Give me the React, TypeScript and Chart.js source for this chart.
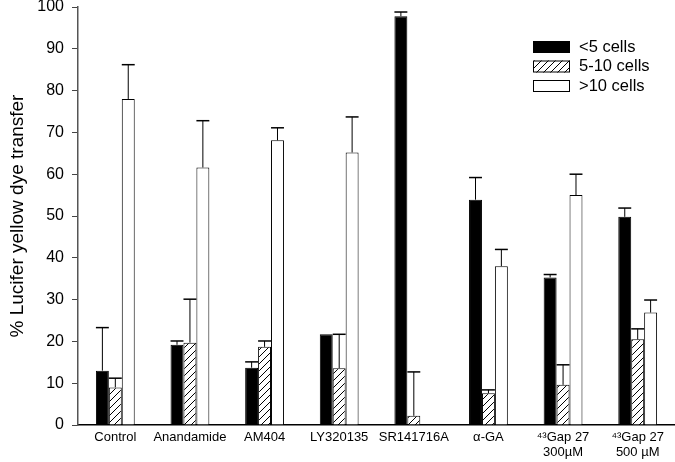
import React, { useEffect, useRef } from "react";
import { Chart, registerables } from "chart.js";

Chart.register(...registerables);

const categories: (string | string[])[] = [
  "Control",
  "Anandamide",
  "AM404",
  "LY320135",
  "SR141716A",
  "α-GA",
  ["⁴³Gap 27", "300µM"],
  ["⁴³Gap 27", "500 µM"],
];

const seriesNames = ["<5 cells", "5-10 cells", ">10 cells"];

const lessThan5 = [13.0, 19.2, 13.7, 21.7, 97.8, 53.9, 35.3, 49.8];
const fiveTo10 = [9.0, 19.7, 18.7, 13.6, 2.2, 7.6, 9.6, 20.5];
const moreThan10 = [78.0, 61.6, 68.1, 65.2, 0, 38.0, 55.0, 26.9];

const errLessThan5 = [10.3, 0.9, 1.4, 0, 1.0, 5.3, 0.7, 2.1];
const errFiveTo10 = [2.2, 10.4, 1.4, 8.1, 10.5, 0.8, 4.8, 2.5];
const errMoreThan10 = [8.2, 11.2, 3.0, 8.5, 0, 4.0, 5.0, 3.0];

const yTicks = [0, 10, 20, 30, 40, 50, 60, 70, 80, 90, 100];

const FONT = "'Liberation Sans', Arial, Helvetica, sans-serif";

function makeHatch(): CanvasPattern | string {
  const c = document.createElement("canvas");
  const s = 7;
  c.width = s;
  c.height = s;
  const ctx = c.getContext("2d");
  if (!ctx) return "#fff";
  ctx.fillStyle = "#fff";
  ctx.fillRect(0, 0, s, s);
  ctx.strokeStyle = "#000";
  ctx.lineWidth = 1;
  ctx.beginPath();
  ctx.moveTo(0, s);
  ctx.lineTo(s, 0);
  ctx.moveTo(-1, 1);
  ctx.lineTo(1, -1);
  ctx.moveTo(s - 1, s + 1);
  ctx.lineTo(s + 1, s - 1);
  ctx.stroke();
  const p = ctx.createPattern(c, "repeat");
  return p || "#fff";
}

export default function App() {
  const ref = useRef<HTMLCanvasElement | null>(null);

  useEffect(() => {
    if (!ref.current) return;
    const hatch = makeHatch();
    const fills: (string | CanvasPattern)[] = ["#000", hatch, "#fff"];
    const errs = [errLessThan5, errFiveTo10, errMoreThan10];
    const vals = [lessThan5, fiveTo10, moreThan10];

    const errorBars = {
      id: "errorBars",
      afterDatasetsDraw(chart: any) {
        const ctx = chart.ctx;
        const ys = chart.scales.y;
        ctx.save();
        ctx.strokeStyle = "#000";
        for (let i = 0; i < 3; i++) {
          const meta = chart.getDatasetMeta(i);
          meta.data.forEach((bar: any, j: number) => {
            const e = errs[i][j];
            if (!e) return;
            const top = ys.getPixelForValue(vals[i][j] + e);
            const base = ys.getPixelForValue(vals[i][j]);
            const half = bar.width / 2;
            ctx.lineWidth = 1;
            ctx.beginPath();
            ctx.moveTo(bar.x, base);
            ctx.lineTo(bar.x, top);
            ctx.stroke();
            ctx.lineWidth = 1.5;
            ctx.beginPath();
            ctx.moveTo(bar.x - half, top);
            ctx.lineTo(bar.x + half, top);
            ctx.stroke();
          });
        }
        ctx.restore();
      },
    };

    const legendBox = {
      id: "legendBox",
      afterDraw(chart: any) {
        const ctx = chart.ctx;
        const ca = chart.chartArea;
        const x0 = ca.right - 142;
        const y0 = ca.top + 34;
        ctx.save();
        ctx.font = `16.5px ${FONT}`;
        ctx.textBaseline = "middle";
        ctx.textAlign = "left";
        for (let i = 0; i < 3; i++) {
          const y = y0 + i * 19.5;
          ctx.fillStyle = fills[i] as any;
          ctx.fillRect(x0, y, 37, 12);
          ctx.strokeStyle = "#000";
          ctx.lineWidth = 1;
          ctx.strokeRect(x0 + 0.5, y + 0.5, 36, 11);
          ctx.fillStyle = "#000";
          ctx.fillText(seriesNames[i], x0 + 46, y + 6);
        }
        ctx.restore();
      },
    };

    const chart = new Chart(ref.current, {
      type: "bar",
      data: {
        labels: categories,
        datasets: vals.map((v, i) => ({
          label: seriesNames[i],
          data: v,
          backgroundColor: fills[i] as any,
          borderColor: "#000",
          borderWidth: 1,
          borderSkipped: "bottom",
          barPercentage: 1,
          categoryPercentage: 0.52,
        })),
      },
      options: {
        responsive: false,
        animation: false,
        devicePixelRatio: 1,
        layout: { padding: { top: 0, right: 0, left: 0, bottom: 0 } },
        plugins: {
          legend: { display: false },
          tooltip: { enabled: false },
        },
        scales: {
          x: {
            grid: { display: false, drawTicks: false },
            border: { display: true, color: "#000", width: 1.5 },
            ticks: {
              color: "#000",
              font: { family: FONT, size: 13, lineHeight: 1.15 },
              padding: 5,
              maxRotation: 0,
              autoSkip: false,
            },
            afterFit: (s: any) => {
              s.height = 37;
            },
          },
          y: {
            min: 0,
            max: 100,
            afterBuildTicks: (s: any) => {
              s.ticks = yTicks.map((v) => ({ value: v }));
            },
            grid: {
              display: true,
              drawOnChartArea: false,
              drawTicks: true,
              tickLength: 6,
              color: "#444",
            },
            border: { display: true, color: "#555", width: 1.5 },
            ticks: {
              color: "#000",
              font: { family: FONT, size: 16 },
              padding: 8,
            },
            title: {
              display: true,
              text: "% Lucifer yellow dye transfer",
              color: "#000",
              font: { family: FONT, size: 19 },
              padding: { top: 6, bottom: 0 },
            },
            afterFit: (s: any) => {
              s.width = 78;
              s.paddingTop = 7;
              s.paddingBottom = 0;
            },
          },
        },
      },
      plugins: [errorBars, legendBox],
    });
    return () => chart.destroy();
  }, []);

  return (
    <div style={{ position: "fixed", left: 0, top: 0, width: 675, height: 462, background: "#fff" }}>
      <canvas ref={ref} width={675} height={462} />
    </div>
  );
}
